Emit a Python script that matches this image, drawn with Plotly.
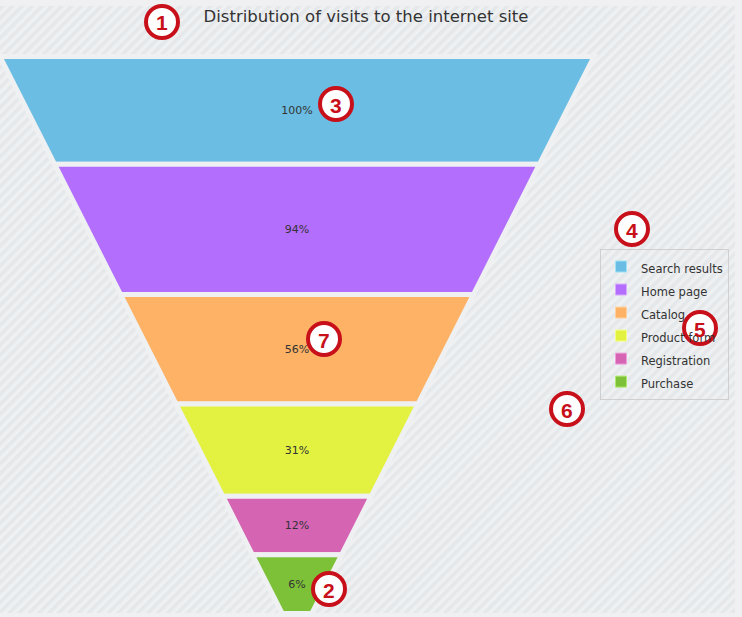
#!/usr/bin/env python

"""Funnel of site visits, rebuilt with plotly funnelarea."""

import base64

import plotly.graph_objects as go

# data
stages = ["Search results", "Home page", "Catalog", "Product form", "Registration", "Purchase"]
visits = [100, 94, 56, 31, 12, 6]
pct_labels = ["100%", "94%", "56%", "31%", "12%", "6%"]
colors = ["#6bbde3", "#b36efd", "#fdb266", "#e3f241", "#d564b3", "#7dc138"]
swatch_edges = ["#9fe3f5", "#d9a8ff", "#ffd3a0", "#f5ff8a", "#f0a0dc", "#b0ea70"]

# callout markers drawn on the screenshot: (number, x px, y px)
callouts = [("1", 162, 22), ("2", 329, 589), ("3", 336, 104), ("4", 632, 229),
            ("5", 700, 328), ("6", 567, 409), ("7", 324, 339)]

W, H = 742, 617
BG = "#eff0f2"


def px(x):
    return x / W


def py(y):
    return 1 - y / H


def main():
    # striped backdrop as an inline svg
    svg = (
        '<svg xmlns="http://www.w3.org/2000/svg" width="735" height="607">'
        '<defs><pattern id="p" width="7" height="7" patternUnits="userSpaceOnUse" '
        'patternTransform="rotate(45)"><rect width="7" height="7" fill="#eff0f2"/>'
        '<rect width="3.5" height="7" fill="#e4e8ea"/></pattern></defs>'
        '<rect width="735" height="607" fill="url(#p)"/></svg>'
    )
    src = "data:image/svg+xml;base64," + base64.b64encode(svg.encode()).decode()

    fig = go.Figure()
    fig.add_trace(
        go.Funnelarea(
            labels=stages,
            values=visits,
            text=pct_labels,
            textinfo="text",
            textposition="inside",
            textfont=dict(family="DejaVu Sans", size=11, color="#333333"),
            marker=dict(colors=colors, line=dict(color=BG, width=5)),
            baseratio=0.05,
            aspectratio=(613 - 58) / 592,
            domain=dict(x=[0, px(594)], y=[py(614), py(56)]),
            hoverinfo="label+text",
            showlegend=False,
        )
    )

    # legend entries
    for name, col, edge in zip(stages, colors, swatch_edges):
        fig.add_trace(go.Scatter(
            x=[None], y=[None], mode="markers",
            name=f"<span style='font-size:11.5px'>{name}</span>",
            marker=dict(symbol="square", size=11, color=col, line=dict(color=edge, width=1)),
            hoverinfo="skip",
        ))

    shapes = []
    annotations = []
    for num, cx, cy in callouts:
        shapes.append(dict(
            type="circle", xref="paper", yref="paper",
            x0=px(cx - 16), x1=px(cx + 16), y0=py(cy + 16), y1=py(cy - 16),
            fillcolor="white", line=dict(color="#c8101a", width=4), layer="above",
        ))
        annotations.append(dict(
            text=f"<b>{num}</b>", x=px(cx), y=py(cy + 1), xref="paper", yref="paper",
            showarrow=False, xanchor="center", yanchor="middle",
            font=dict(family="Liberation Sans", size=21, color="#c8101a"),
        ))

    fig.update_layout(
        width=W,
        height=H,
        margin=dict(l=0, r=0, t=0, b=0),
        paper_bgcolor="#f0f0f2",
        plot_bgcolor="rgba(0,0,0,0)",
        xaxis=dict(visible=False),
        yaxis=dict(visible=False),
        title=dict(
            text="Distribution of visits to the internet site",
            x=px(366), y=py(16), xanchor="center", yanchor="middle",
            font=dict(family="DejaVu Sans", size=16.5, color="#333333"),
        ),
        legend=dict(
            x=px(600), y=py(249), xanchor="left", yanchor="top",
            bordercolor="#cfcfcf", borderwidth=1, bgcolor="rgba(0,0,0,0)",
            font=dict(family="DejaVu Sans", size=15.4, color="#333333"),
            itemsizing="trace",
        ),
        images=[dict(
            source=src, xref="paper", yref="paper", x=0, y=py(6),
            sizex=px(735), sizey=(613 - 6) / H, sizing="stretch",
            xanchor="left", yanchor="top", layer="below",
        )],
        shapes=shapes,
        annotations=annotations,
    )

    fig.write_html(
        "out.html",
        config={"displayModeBar": False},
        post_script="document.body.style.margin='0';",
    )


if __name__ == "__main__":
    main()
